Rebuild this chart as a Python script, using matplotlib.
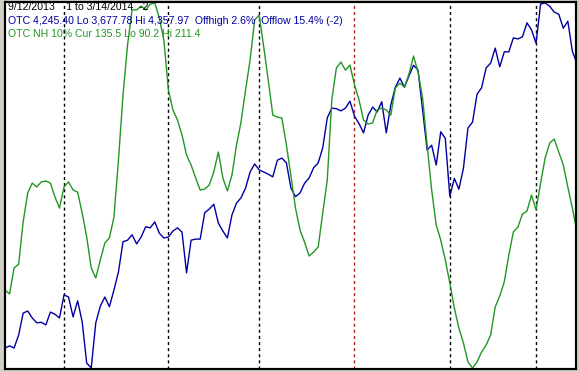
import matplotlib
matplotlib.use("Agg")
import matplotlib.pyplot as plt

# daily closes, 9/12/2013 .. 3/14/2014 (127 trading days)
otc = [3715, 3719, 3715, 3739, 3780, 3784, 3771, 3762, 3763, 3758,
       3782, 3778, 3771, 3814, 3810, 3773, 3803, 3764, 3687, 3677.78,
       3762, 3793, 3810, 3792, 3823, 3857, 3913, 3916, 3926, 3909,
       3922, 3941, 3939, 3950, 3929, 3920, 3922, 3933, 3939, 3931,
       3855, 3916, 3918, 3918, 3967, 3974, 3983, 3948, 3933, 3920,
       3963, 3985, 3995, 4013, 4043, 4058, 4047, 4043, 4039, 4034,
       4065, 4069, 4060, 4013, 3997, 4004, 4022, 4032, 4051, 4060,
       4088, 4144, 4162, 4161, 4157, 4162, 4175, 4147, 4133, 4116,
       4149, 4164, 4155, 4174, 4116, 4168, 4201, 4218, 4201, 4222,
       4242, 4233, 4159, 4084, 4093, 4056, 4118, 4106, 3998, 4031,
       4011, 4050, 4125, 4136, 4188, 4200, 4237, 4246, 4274, 4239,
       4267, 4267, 4293, 4291, 4295, 4321, 4308, 4283, 4356, 4357.97,
       4352, 4341, 4337, 4311, 4324, 4268, 4245.40]

nh10 = [116.1, 114.8, 123.4, 124.7, 138.7, 148.3, 151.6, 150.3, 152.0, 152.3,
        151.6, 147.0, 143.3, 150.3, 152.0, 149.3, 148.6, 141.7, 133.7, 123.4,
        120.1, 126.1, 131.7, 133.4, 140.3, 159.3, 180.8, 197.5, 209.1, 209.1,
        210.4, 209.1, 211.0, 211.4, 206.4, 199.1, 182.5, 175.9, 172.5, 167.6,
        160.9, 157.6, 153.3, 149.3, 149.6, 151.0, 155.3, 161.9, 153.3, 149.0,
        154.3, 164.2, 171.9, 182.5, 192.5, 205.8, 207.4, 196.8, 185.8, 174.2,
        173.5, 173.2, 164.2, 154.0, 143.3, 136.0, 132.0, 127.4, 128.7, 130.4,
        141.7, 152.6, 179.2, 189.8, 191.8, 189.1, 190.8, 184.2, 179.2, 172.5,
        171.2, 171.6, 175.9, 176.5, 175.9, 174.2, 183.2, 184.8, 183.5, 187.8,
        193.8, 188.5, 179.9, 164.2, 149.3, 137.7, 132.7, 126.1, 118.4, 110.1,
        103.5, 98.5, 92.2, 90.2, 92.2, 95.5, 97.8, 101.2, 110.5, 114.1,
        118.8, 127.7, 135.4, 137.0, 141.3, 142.3, 147.6, 142.7, 151.6, 159.9,
        164.9, 166.2, 161.9, 157.6, 150.3, 143.3, 135.5]

# first trading day of each month (index into the series)
month_starts = [13, 36, 56, 77, 98, 117]
year_start = 77

title = "9/12/2013    1 to 3/14/2014  -2"
otc_label = "OTC 4,245.40 Lo 3,677.78 Hi 4,357.97  Offhigh 2.6%  Offlow 15.4% (-2)"
nh_label = "OTC NH 10% Cur 135.5 Lo 90.2 Hi 211.4"

blue = "#0000A0"
green = "#239623"

fig = plt.figure(figsize=(5.79, 3.72), dpi=100, facecolor="#D4D0C8")
ax = fig.add_axes([5 / 579, 3 / 372, 571 / 579, 367 / 372])
ax.set_facecolor("white")
ax2 = ax.twinx()

days = list(range(len(otc)))
ax.plot(days, otc, color=blue, lw=1.0, zorder=3)
ax2.plot(days, nh10, color=green, lw=1.0, zorder=2)

for d in month_starts:
    c = "#B02020" if d == year_start else "black"
    ax.axvline(d, color=c, lw=1.0, linestyle=(0, (2.2, 2.2)), zorder=1)

ax.set_xlim(0, 125.8)
pb = (max(otc) - min(otc)) / 365
ax.set_ylim(min(otc) - pb, max(otc) + pb)
pg = (max(nh10) - min(nh10)) / 365
ax2.set_ylim(min(nh10) - pg, max(nh10) + pg)

for a in (ax, ax2):
    a.set_xticks([])
    a.set_yticks([])
    for s in a.spines.values():
        s.set_color("black")
        s.set_linewidth(1.5)

fam = ["Liberation Sans", "DejaVu Sans"]
fs = 7.6
ax2.text(3 / 571, 1 - 5.5 / 367, title, transform=ax.transAxes, color="black",
         fontsize=fs, family=fam, va="center", ha="left", zorder=5)
ax2.text(3 / 571, 1 - 19.5 / 367, otc_label, transform=ax.transAxes, color=blue,
         fontsize=fs, family=fam, va="center", ha="left", zorder=5)
ax2.text(3 / 571, 1 - 32 / 367, nh_label, transform=ax.transAxes, color=green,
         fontsize=fs, family=fam, va="center", ha="left", zorder=5)

fig.savefig("out.png", dpi=100, facecolor=fig.get_facecolor())
